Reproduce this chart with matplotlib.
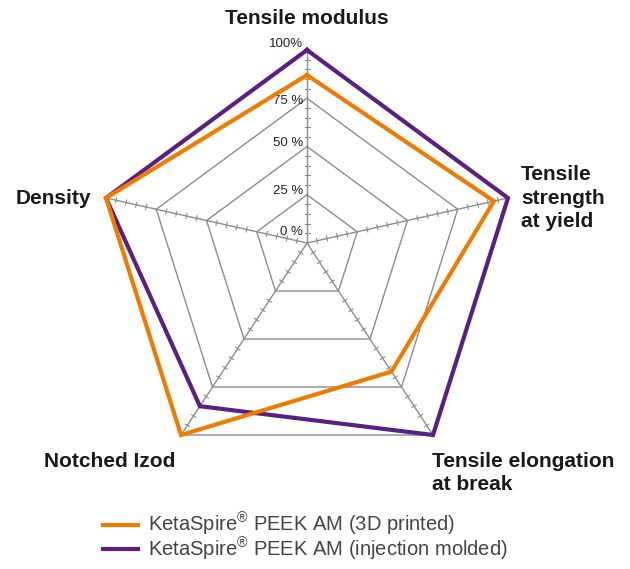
import numpy as np
import matplotlib
matplotlib.use("Agg")
import matplotlib.pyplot as plt

plt.rcParams['font.family'] = ['Liberation Sans', 'DejaVu Sans']
plt.rcParams['mathtext.fontset'] = 'custom'
plt.rcParams['mathtext.rm'] = 'Liberation Sans'

# =========================
# data (fraction of best value)
# =========================
categories = ["Tensile modulus", "Tensile strength at yield",
              "Tensile elongation at break", "Notched Izod", "Density"]
printed_3d = [0.87, 0.93, 0.67, 1.00, 1.00]
injection = [1.00, 1.00, 1.00, 0.85, 1.00]
series_names = [r"KetaSpire$^{\mathrm{®}}$ PEEK AM (3D printed)",
                r"KetaSpire$^{\mathrm{®}}$ PEEK AM (injection molded)"]
level_values = [0, 25, 50, 75, 100]
level_texts = ["0 %", "25 %", "50 %", "75 %", "100%"]

ORANGE = "#ef7b00"
PURPLE = "#5a1f83"
GRID = "#8c8c8c"

# layout: centre of the web and the 100% end of every spoke (pixels, y down)
cx, cy = 307, 243
spokes = np.array([[0, -193], [201, -45], [126, 192], [-126, 192], [-201, -45]], float)
label_shift = [-11, -4, -4, 3, -6]   # vertical nudge of the % labels

fig = plt.figure(figsize=(6.3, 5.69), dpi=100)
ax = fig.add_axes([0, 0, 1, 1])
ax.set_xlim(0, 630)
ax.set_ylim(569, 0)
ax.axis("off")


def to_xy(vals):
    vals = np.asarray(vals, float)
    pts = np.column_stack([cx + vals * spokes[:, 0], cy + vals * spokes[:, 1]])
    return np.vstack([pts, pts[:1]])


# grid pentagons
for lv in level_values[1:]:
    p = to_xy([lv / 100] * 5)
    ax.plot(p[:, 0], p[:, 1], color=GRID, lw=1.0, zorder=1)

# spokes with small ticks every 5%
for vx, vy in spokes:
    ax.plot([cx, cx + vx], [cy, cy + vy], color=GRID, lw=1.0, zorder=1)
    n = np.array([-vy, vx]) / np.hypot(vx, vy)
    for k in range(1, 20):
        if k % 5 == 0:
            continue
        f = k / 20
        px, py = cx + f * vx, cy + f * vy
        ax.plot([px - 2.5 * n[0], px + 2.5 * n[0]], [py - 2.5 * n[1], py + 2.5 * n[1]],
                color=GRID, lw=0.8, zorder=1)

# level labels on top spoke
for lv, txt, sh in zip(level_values, level_texts, label_shift):
    y = cy + lv / 100 * spokes[0, 1]
    ax.text(cx - 4, y + sh, txt, ha="right", va="center",
            fontsize=9.5, color="#222222")

# series
p_inj = to_xy(injection)
p_3d = to_xy(printed_3d)
l2, = ax.plot(p_inj[:, 0], p_inj[:, 1], color=PURPLE, lw=3.0, zorder=3,
              solid_joinstyle="miter", label=series_names[1])
l1, = ax.plot(p_3d[:, 0], p_3d[:, 1], color=ORANGE, lw=3.0, zorder=4,
              solid_joinstyle="miter", label=series_names[0])

# axis labels
lab = dict(fontsize=15, fontweight="bold", color="#1a1a1a")
ax.text(307, 18, "Tensile modulus", ha="center", va="center", **lab)
ax.text(521, 198, "Tensile\nstrength\nat yield", ha="left", va="center", linespacing=1.32, **lab)
ax.text(432, 473, "Tensile elongation\nat break", ha="left", va="center", linespacing=1.32, **lab)
ax.text(110, 461, "Notched Izod", ha="center", va="center", **lab)
ax.text(91, 198, "Density", ha="right", va="center", **lab)

ax.legend(handles=[l1, l2], loc="upper left", bbox_to_anchor=(0.163, 0.102),
          frameon=False, fontsize=14.5, handlelength=1.75, handletextpad=0.5,
          labelspacing=-0.12, borderaxespad=0, borderpad=0, labelcolor="#444444")

fig.savefig("out.png", dpi=100)
